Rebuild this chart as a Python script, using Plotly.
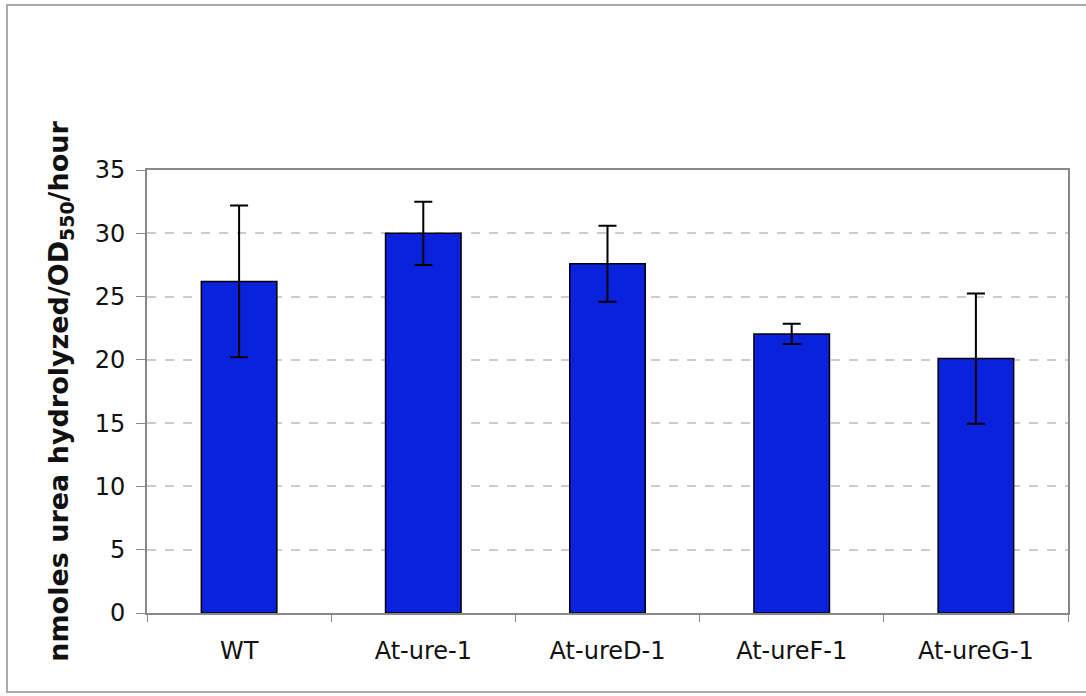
import plotly.graph_objects as go

categories = ["WT", "At-ure-1", "At-ureD-1", "At-ureF-1", "At-ureG-1"]
values = [26.2, 30.0, 27.6, 22.05, 20.1]
errors = [6.0, 2.5, 3.0, 0.8, 5.15]
y_ticks = [0, 5, 10, 15, 20, 25, 30, 35]

W, H = 1086, 696
L, R, T, B = 147, 18, 170, 83
pw, ph = W - L - R, H - T - B

fig = go.Figure()
fig.add_trace(go.Bar(
    x=categories, y=values,
    marker=dict(color="#0b22dc", line=dict(color="#000000", width=1.5)),
    error_y=dict(type="data", array=errors, visible=True, color="#000000",
                 thickness=2, width=9),
    width=0.41,
))

fig.update_layout(
    width=W, height=H,
    margin=dict(l=L, r=R, t=T, b=B),
    paper_bgcolor="white", plot_bgcolor="white",
    showlegend=False,
    font=dict(family="DejaVu Sans", color="#111111"),
    xaxis=dict(
        type="category", showgrid=False, tickson="boundaries",
        ticks="outside", ticklen=7, tickcolor="#888888", tickwidth=1,
        showline=True, linecolor="#888888", linewidth=2, mirror=True,
        tickfont=dict(size=24, family="DejaVu Sans"), ticklabelstandoff=15,
    ),
    yaxis=dict(
        range=[0, 35], tickvals=y_ticks, showgrid=True,
        gridcolor="#cccccc", griddash="dash", gridwidth=1.5,
        ticks="outside", ticklen=9, tickcolor="#888888", tickwidth=1,
        showline=True, linecolor="#888888", linewidth=2, mirror=True,
        tickfont=dict(size=24, family="DejaVu Sans"), ticklabelstandoff=6,
        zeroline=False,
        title=dict(text="nmoles urea hydrolyzed/OD<sub>550</sub>/hour",
                   font=dict(size=27, family="DejaVu Sans", weight="bold"),
                   standoff=18),
    ),
)

# outer chart frame
fig.add_shape(type="rect", xref="paper", yref="paper",
              x0=(7 - L) / pw, x1=(1092 - L) / pw,
              y0=((H - B) - 692) / ph, y1=((H - B) - 5) / ph,
              line=dict(color="#aaaaaa", width=2), layer="below")

fig.write_html("out.html")
